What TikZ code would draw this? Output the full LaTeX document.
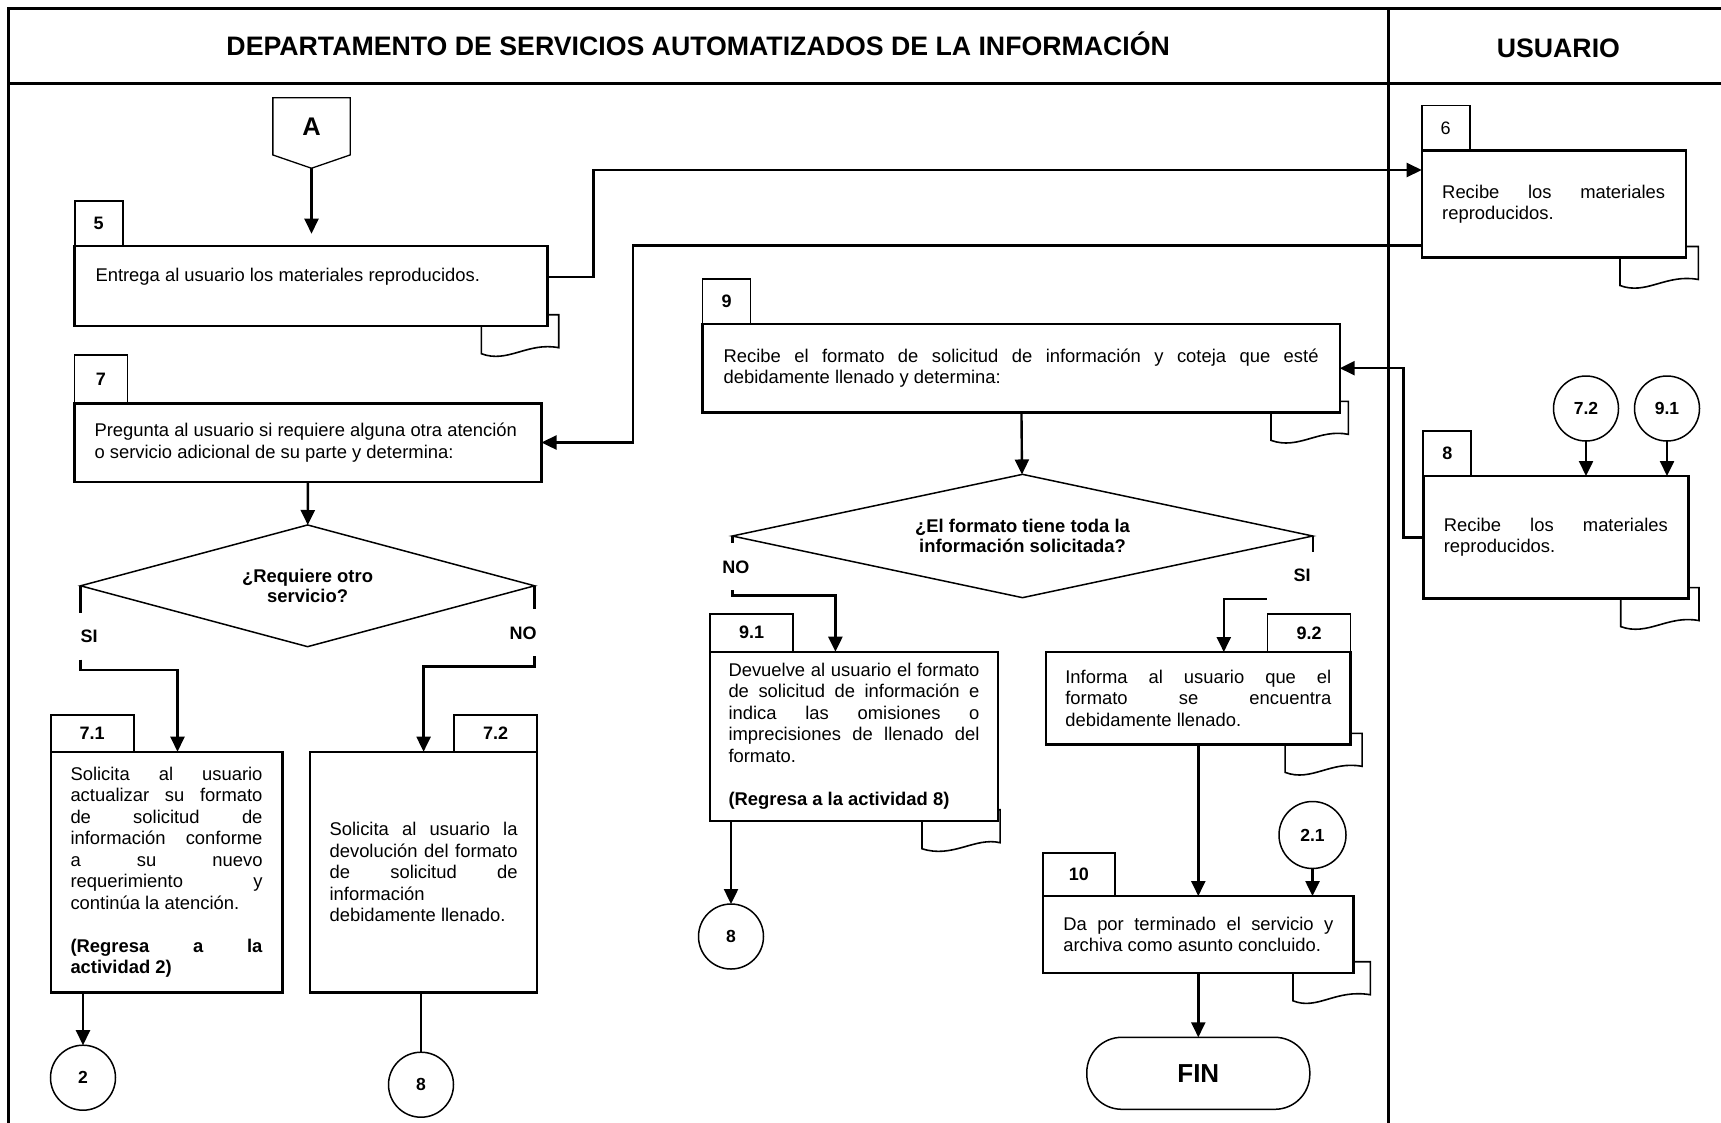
\documentclass[tikz,border=0pt]{standalone}
\usepackage{fontspec}
\setmainfont{Liberation Sans}
\usetikzlibrary{arrows.meta, positioning, shapes.geometric, calc}

\newcommand{\docsh}[3]{%
  \draw[docl] ($(#1.south east)+(-#2,0)$) -- ($(#1.south east)+(-#2,28)$)
    .. controls ($(#1.south east)+(-0.6*#2,38)$) and ($(#1.south east)+(-0.3*#2,16)$) .. ($(#1.south east)+(#3,22)$)
    -- ($(#1.south east)+(#3,-11)$) -- ($(#1.south east)+(0,-11)$);}

\begin{document}
\begin{tikzpicture}[
    x=1pt, y=-1pt,
    every node/.style={font=\fontsize{18.4}{21.5}\selectfont, inner sep=0pt, outer sep=0pt},
    act/.style={draw, line width=2.4pt, fill=white, align=justify},
    tab/.style={draw, line width=1.7pt, font=\fontsize{18}{21}\selectfont\bfseries, minimum width=48pt, minimum height=45pt},
    subtab/.style={tab, minimum width=83pt, minimum height=37pt},
    dec/.style={draw, diamond, line width=1.5pt, align=center, font=\fontsize{18.4}{20.5}\selectfont\bfseries},
    conn/.style={draw, circle, line width=1.5pt, minimum size=65pt, font=\fontsize{17.5}{20}\selectfont\bfseries},
    lbl/.style={font=\fontsize{18}{21}\selectfont\bfseries, inner ysep=17pt, text height=13pt, text depth=0pt},
    hdr/.style={font=\fontsize{26.7}{30}\selectfont\bfseries},
    term/.style={draw, line width=1.5pt, rounded corners=35pt, minimum width=223pt, minimum height=72pt, font=\fontsize{26}{30}\selectfont\bfseries},
    ar/.style={-{Triangle[length=15pt,width=14pt]}, line width=2.4pt},
    ln/.style={line width=2.4pt},
    frame/.style={line width=3pt},
    docl/.style={line width=1.6pt}
]
\useasboundingbox (0,0) rectangle (1721,1122);
\draw[frame] (8.4,1130) -- (8.4,8.3) -- (1730,8.3);
\draw[frame] (8.4,83.3) -- (1730,83.3);
\draw[frame] (1388.3,8.3) -- (1388.3,1130);
\node[hdr, anchor=base] (hdept) at (698.2,55) {DEPARTAMENTO DE SERVICIOS AUTOMATIZADOS DE LA INFORMACIÓN};
\node[hdr, anchor=base] (husr) at (1558.4,57) {USUARIO};

\node[font=\fontsize{25.5}{30}\selectfont\bfseries, minimum width=77.3pt, minimum height=57.3pt] (A) at (311.5,126.3) {A};
\coordinate (Atip) at ([yshift=-13.3pt]A.south);
\draw[line width=1.3pt] (A.south west) -- (A.north west) -- (A.north east) -- (A.south east) -- (Atip) -- cycle;

\node[act, minimum width=472.7pt, minimum height=80pt, text width=431pt] (b5) at (311,285.7) {Entrega al usuario los materiales reproducidos.\\\mbox{}};
\node[act, minimum width=264pt, minimum height=107pt, text width=223pt] (b6) at (1553.7,204) {Recibe los materiales\linebreak reproducidos.};
\node[act, minimum width=467pt, minimum height=78.4pt, text width=427pt] (b7) at (308,442.5) {Pregunta al usuario si requiere alguna otra atención\\o servicio adicional de su parte y determina:};
\node[act, minimum width=265pt, minimum height=122.6pt, text width=224pt] (b8) at (1555.8,537.3) {Recibe los materiales\linebreak reproducidos.};
\node[act, minimum width=637.2pt, minimum height=88.3pt, text width=595pt] (b9) at (1021.1,368.2) {Recibe el formato de solicitud de información y coteja que esté\linebreak debidamente llenado y determina:};
\node[act, minimum width=231.6pt, minimum height=240.6pt, text width=192pt] (b71) at (166.5,872) {Solicita al usuario\linebreak actualizar su formato\linebreak de solicitud de\linebreak información conforme\linebreak a su nuevo\linebreak requerimiento y\linebreak continúa la atención.\\[21.5pt]\textbf{(Regresa a la\linebreak actividad 2)}};
\node[act, minimum width=227.2pt, minimum height=240.6pt, text width=188pt] (b72) at (423.6,872) {Solicita al usuario la\linebreak devolución del formato\linebreak de solicitud de\linebreak información\linebreak debidamente llenado.};
\node[act, minimum width=287.9pt, minimum height=169pt, text width=251pt] (b91) at (854,736.2) {Devuelve al usuario el formato\linebreak de solicitud de información e\linebreak indica las omisiones o\linebreak imprecisiones de llenado del\linebreak formato.\\[21.5pt]\textbf{(Regresa a la actividad 8)}};
\node[act, minimum width=304.5pt, minimum height=92.3pt, text width=266pt] (b92) at (1198.3,698.2) {Informa al usuario que el\linebreak formato se encuentra\linebreak debidamente llenado.};
\node[act, minimum width=310.7pt, minimum height=76.7pt, text width=270pt] (b10) at (1198.3,934.4) {Da por terminado el servicio y\linebreak archiva como asunto concluido.};

\node[tab, above right=0pt and 0pt of b5.north west] (t5) {5};
\node[tab, font=\fontsize{18}{21}\selectfont, above right=0pt and 0pt of b6.north west] (t6) {6};
\node[tab, minimum width=53pt, minimum height=48pt, above right=0pt and 0pt of b7.north west] (t7) {7};
\node[tab, above right=0pt and 0pt of b8.north west] (t8) {8};
\node[tab, above right=0pt and 0pt of b9.north west] (t9) {9};
\node[subtab, above right=0pt and 0pt of b71.north west] (t71) {7.1};
\node[subtab, above left=0pt and 0pt of b72.north east] (t72) {7.2};
\node[subtab, minimum height=38pt, above right=0pt and 0pt of b91.north west] (t91) {9.1};
\node[subtab, minimum height=38pt, above left=0pt and 0pt of b92.north east] (t92) {9.2};
\node[subtab, minimum width=72pt, minimum height=43pt, above right=0pt and 0pt of b10.north west] (t10) {10};

\node[dec, aspect=3.7, minimum width=454pt, minimum height=121.7pt] (d1) at (307.6,585.8) {¿Requiere otro\\servicio?};
\node[dec, aspect=4.7, minimum width=580.4pt, minimum height=123.3pt] (d2) at (1022.5,536) {¿El formato tiene toda la\\información solicitada?};
\node[lbl, anchor=west] (si1) at (80.6,636.2) {SI};
\node[lbl, anchor=east] (no1) at (536.5,632.8) {NO};
\node[lbl] (no2) at (735.8,566.8) {NO};
\node[lbl] (si2) at (1302,575.2) {SI};

\node[conn] (c2) at (83,1077.7) {2};
\node[conn] (c8a) at (421,1084.7) {8};
\node[conn] (c8b) at (731,936.5) {8};
\node[conn, minimum size=67pt] (c21) at (1312.5,835) {2.1};
\node[conn] (c72) at (1586,408.5) {7.2};
\node[conn] (c91) at (1667,408.5) {9.1};
\node[term] (fin) at (1198.3,1073.3) {FIN};

\draw[ar, shorten >=12pt] (Atip) -- (Atip |- b5.north);
\draw[ar] ([yshift=9pt]b5.east) -- ++(46,0) |- ([yshift=34pt]b6.west);
\draw[ar] ([yshift=-41.4pt]b6.west) -| ([xshift=91.5pt]b7.east) -- (b7.east);
\draw[ar] (b7) -- (d1);
\draw[ln] (d1.west) -- (d1.west |- si1.north);
\draw[ar] (d1.west |- si1.south) -- ++(0,10) -| ([xshift=11pt]b71.north);
\draw[ln] (d1.east) -- (d1.east |- no1.north);
\draw[ar] (d1.east |- no1.south) -- ++(0,10) -| (b72.north);
\draw[ar] (c2 |- b71.south) -- (c2);
\draw[ln] (c8a |- b72.south) -- (c8a);
\draw[ar] (b8.west) -- ++(-20,0) |- (b9.east);
\draw[ar] (c72) -- (c72 |- b8.north);
\draw[ar] (c91) -- (c91 |- b8.north);
\draw[ar] (b9) -- (d2);
\draw[ln] (d2.west) -- (d2.west |- no2.north);
\draw[ar] (d2.west |- no2.south) -- ++(0,5) -| ([xshift=-18.6pt]b91.north);
\draw[ln] (d2.east) -- (d2.east |- si2.north);
\draw[ar] ([xshift=-27pt]si2.south west) -| ([xshift=25.5pt]b92.north);
\draw[ar] (c8b |- b91.south) -- (c8b);
\draw[ar] (b92) -- (b10);
\draw[ar] (c21) -- (c21 |- b10.north);
\draw[ar] (b10) -- (fin);

\docsh{b5}{66}{11.4}
\docsh{b6}{65.7}{12.6}
\docsh{b8}{67.6}{10.7}
\docsh{b9}{68.7}{8.7}
\docsh{b91}{76}{2.1}
\docsh{b92}{65.5}{11.5}
\docsh{b10}{60.7}{16.7}
\end{tikzpicture}
\end{document}
